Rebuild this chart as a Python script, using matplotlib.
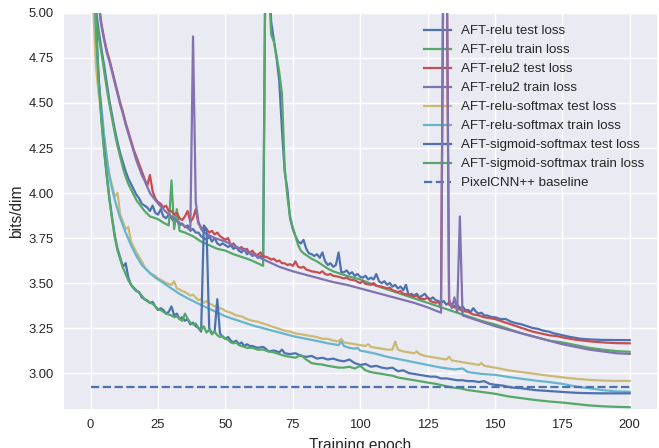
import matplotlib
matplotlib.use("Agg")
from matplotlib import pyplot as plt

# seaborn "deep" colours (old palette)
c_blue = "#4C72B0"
c_green = "#55A868"
c_red = "#C44E52"
c_purple = "#8172B2"
c_yellow = "#CCB974"
c_cyan = "#64B5CD"

# ---- AFT-relu test loss
ep_relu_test = [1, 2, 3, 4, 5, 6, 7, 8, 9, 10, 11, 12, 13, 14, 15, 16, 17, 18, 19, 20,
                21, 22, 23, 24, 25, 26, 27, 28, 29, 30, 31, 32, 33, 34, 35, 36, 37, 38, 39, 40,
                41, 42, 43, 44, 45, 46, 47, 48, 49, 50, 51, 52, 53, 54, 55, 56, 57, 58, 59, 60,
                61, 62, 63, 64, 65, 66, 67, 68, 69, 70, 71, 72, 73, 74, 75, 76, 77, 78, 79, 80,
                81, 82, 83, 84, 85, 86, 87, 88, 89, 90, 91, 92, 93, 94, 95, 96, 97, 98, 99, 100,
                101, 102, 103, 104, 105, 106, 107, 108, 109, 110, 111, 112, 113, 114, 115, 116, 117, 118, 119, 120,
                121, 122, 123, 124, 125, 126, 127, 128, 129, 130, 131, 132, 133, 134, 135, 136, 137, 138, 139, 140,
                141, 142, 143, 144, 145, 146, 147, 148, 149, 150, 152, 154, 156, 158, 160, 162, 164, 166, 168, 170,
                172, 175, 178, 182, 186, 190, 195, 200]
loss_relu_test = [5.60, 5.02, 4.90, 4.80, 4.71, 4.61, 4.51, 4.43, 4.35, 4.28, 4.22, 4.17, 4.12, 4.08, 4.05, 4.02, 3.99, 3.97, 3.94, 3.93,
                  3.92, 3.90, 3.93, 3.89, 3.88, 3.91, 3.87, 3.86, 3.88, 3.86, 3.84, 3.85, 3.82, 3.83, 3.81, 3.82, 3.79, 3.80, 3.78, 3.78,
                  3.76, 3.75, 3.74, 3.76, 3.73, 3.75, 3.72, 3.71, 3.72, 3.71, 3.70, 3.71, 3.69, 3.70, 3.68, 3.67, 3.69, 3.66, 3.67, 3.65,
                  3.66, 3.64, 3.65, 3.63, 5.60, 5.30, 4.95, 4.85, 4.75, 4.62, 4.35, 4.12, 4.02, 3.86, 3.80, 3.76, 3.73, 3.72, 3.74, 3.69,
                  3.665, 3.66, 3.65, 3.66, 3.64, 3.67, 3.62, 3.60, 3.61, 3.59, 3.60, 3.67, 3.56, 3.56, 3.57, 3.55, 3.56, 3.54, 3.55, 3.535,
                  3.53, 3.54, 3.52, 3.53, 3.52, 3.55, 3.51, 3.50, 3.51, 3.49, 3.50, 3.48, 3.49, 3.47, 3.48, 3.46, 3.49, 3.43, 3.44, 3.43,
                  3.44, 3.42, 3.43, 3.44, 3.42, 3.41, 3.42, 3.405, 3.40, 3.39, 3.40, 3.38, 3.39, 3.38, 3.37, 3.38, 3.36, 3.37, 3.35, 3.35,
                  3.34, 3.36, 3.34, 3.33, 3.335, 3.32, 3.32, 3.315, 3.31, 3.31, 3.30, 3.30, 3.285, 3.276, 3.27, 3.26, 3.25, 3.245, 3.235, 3.23,
                  3.22, 3.21, 3.20, 3.19, 3.186, 3.184, 3.183, 3.183]

# ---- AFT-relu train loss
ep_relu_train = [1, 2, 3, 4, 5, 6, 7, 8, 9, 10, 11, 12, 13, 14, 15, 16, 17, 18, 19, 20,
                 22, 25, 27, 29, 30, 31, 32, 33, 35, 38, 41, 44, 47, 50, 53, 56, 59, 62, 64, 65,
                 66, 67, 68, 69, 70, 71, 72, 73, 74, 75, 76, 77, 78, 79, 80, 82, 84, 86, 88, 90,
                 92, 95, 100, 105, 110, 115, 120, 125, 130, 135, 140, 145, 150, 155, 160, 165, 170, 175, 180, 185,
                 190, 195, 200]
loss_relu_train = [5.55, 4.98, 4.87, 4.78, 4.68, 4.58, 4.49, 4.41, 4.33, 4.26, 4.20, 4.14, 4.09, 4.05, 4.02, 3.99, 3.96, 3.94, 3.92, 3.90,
                   3.87, 3.855, 3.835, 3.82, 4.07, 3.80, 3.91, 3.79, 3.78, 3.76, 3.73, 3.71, 3.69, 3.68, 3.66, 3.645, 3.63, 3.61, 3.595, 5.60,
                   5.20, 4.88, 4.84, 4.76, 4.67, 4.55, 4.14, 3.98, 3.87, 3.81, 3.76, 3.71, 3.68, 3.665, 3.655, 3.635, 3.62, 3.60, 3.58, 3.565,
                   3.555, 3.54, 3.52, 3.49, 3.465, 3.44, 3.415, 3.39, 3.365, 3.34, 3.315, 3.29, 3.27, 3.245, 3.22, 3.20, 3.18, 3.17, 3.155, 3.14,
                   3.13, 3.122, 3.118]

# ---- AFT-relu2 test loss
ep_relu2_test = [1, 2, 3, 4, 5, 6, 7, 8, 9, 10, 11, 12, 13, 14, 15, 16, 17, 18, 19, 20,
                 21, 22, 23, 24, 25, 26, 27, 28, 29, 30, 31, 32, 33, 34, 35, 36, 37, 38, 39, 40,
                 41, 42, 43, 44, 45, 46, 47, 48, 49, 50, 51, 52, 53, 54, 55, 56, 57, 58, 59, 60,
                 61, 62, 63, 64, 65, 66, 67, 68, 69, 70, 71, 72, 73, 74, 75, 76, 77, 78, 79, 80,
                 82, 84, 85, 86, 87, 88, 89, 90, 92, 94, 95, 96, 98, 100, 101, 102, 104, 105, 106, 108,
                 110, 111, 112, 114, 115, 116, 118, 120, 121, 122, 124, 125, 126, 128, 129, 130, 131, 132, 133, 134,
                 136, 138, 140, 142, 144, 146, 148, 150, 153, 156, 158, 161, 164, 167, 170, 173, 176, 180, 185, 190,
                 195, 200]
loss_relu2_test = [5.65, 5.30, 5.06, 4.94, 4.86, 4.79, 4.74, 4.68, 4.62, 4.56, 4.50, 4.45, 4.39, 4.34, 4.29, 4.24, 4.20, 4.16, 4.12, 4.08,
                   4.04, 4.10, 4.01, 3.97, 3.95, 3.94, 3.92, 3.93, 3.90, 3.90, 3.88, 3.89, 3.86, 3.85, 3.87, 3.90, 3.84, 3.86, 3.91, 3.83,
                   3.81, 3.79, 3.80, 3.78, 3.79, 3.77, 3.78, 3.76, 3.75, 3.74, 3.75, 3.71, 3.72, 3.70, 3.69, 3.70, 3.68, 3.69, 3.665, 3.68,
                   3.66, 3.655, 3.67, 3.65, 3.645, 3.64, 3.63, 3.635, 3.62, 3.625, 3.61, 3.61, 3.60, 3.605, 3.595, 3.62, 3.59, 3.585, 3.59, 3.575,
                   3.565, 3.56, 3.555, 3.565, 3.55, 3.545, 3.55, 3.54, 3.535, 3.525, 3.53, 3.52, 3.515, 3.50, 3.51, 3.495, 3.49, 3.50, 3.485, 3.48,
                   3.47, 3.475, 3.46, 3.45, 3.455, 3.44, 3.435, 3.425, 3.43, 3.415, 3.41, 3.42, 3.40, 3.39, 3.395, 3.37, 5.60, 5.60, 3.38, 3.37,
                   3.36, 3.345, 3.34, 3.325, 3.32, 3.31, 3.305, 3.30, 3.285, 3.27, 3.26, 3.245, 3.23, 3.22, 3.21, 3.205, 3.195, 3.185, 3.176, 3.17,
                   3.166, 3.165]

# ---- AFT-relu2 train loss
ep_relu2_train = [1, 2, 3, 4, 5, 6, 7, 8, 9, 10, 11, 12, 13, 14, 15, 16, 17, 18, 19, 20,
                  21, 22, 24, 26, 28, 30, 32, 34, 36, 37, 38, 39, 40, 41, 42, 44, 46, 48, 50, 55,
                  60, 65, 70, 75, 80, 85, 90, 95, 100, 105, 110, 115, 120, 125, 130, 131, 132, 133, 134, 135,
                  136, 137, 138, 140, 145, 150, 155, 160, 165, 170, 175, 180, 185, 190, 195, 200]
loss_relu2_train = [5.62, 5.27, 5.04, 4.93, 4.85, 4.78, 4.73, 4.67, 4.61, 4.55, 4.49, 4.44, 4.38, 4.33, 4.28, 4.23, 4.18, 4.14, 4.10, 4.07,
                    4.035, 4.00, 3.96, 3.925, 3.895, 3.87, 3.845, 3.825, 3.805, 3.795, 4.87, 3.95, 3.84, 3.80, 3.78, 3.765, 3.75, 3.74, 3.73, 3.695,
                    3.66, 3.625, 3.59, 3.565, 3.545, 3.525, 3.505, 3.49, 3.47, 3.45, 3.43, 3.41, 3.39, 3.365, 3.335, 5.60, 5.60, 3.41, 3.36, 3.42,
                    3.34, 3.87, 3.32, 3.31, 3.285, 3.26, 3.24, 3.22, 3.20, 3.18, 3.16, 3.145, 3.13, 3.12, 3.11, 3.106]

# ---- AFT-relu-softmax test loss
ep_rs_test = [1, 2, 3, 4, 5, 6, 7, 8, 9, 10, 11, 12, 13, 14, 15, 16, 17, 18, 19, 20,
              22, 24, 25, 27, 28, 29, 30, 31, 32, 33, 34, 35, 36, 37, 38, 39, 40, 41, 42, 43,
              44, 45, 46, 47, 48, 49, 50, 52, 54, 56, 58, 60, 62, 64, 66, 68, 70, 72, 74, 76,
              78, 80, 82, 84, 86, 88, 90, 92, 93, 94, 96, 98, 100, 102, 103, 104, 106, 108, 110, 112,
              113, 114, 116, 118, 120, 121, 122, 124, 126, 128, 130, 132, 133, 134, 136, 138, 140, 142, 144, 145,
              146, 148, 150, 155, 160, 165, 170, 175, 180, 185, 190, 195, 200]
loss_rs_test = [5.02, 4.70, 4.55, 4.44, 4.32, 4.20, 4.10, 4.04, 3.98, 4.00, 3.88, 3.84, 3.80, 3.81, 3.73, 3.70, 3.67, 3.645, 3.62, 3.59,
                3.555, 3.54, 3.525, 3.51, 3.50, 3.495, 3.49, 3.51, 3.47, 3.465, 3.455, 3.45, 3.44, 3.43, 3.435, 3.42, 3.405, 3.41, 3.39, 3.40,
                3.385, 3.38, 3.37, 3.375, 3.36, 3.355, 3.345, 3.335, 3.32, 3.315, 3.30, 3.29, 3.285, 3.275, 3.265, 3.255, 3.245, 3.235, 3.23, 3.22,
                3.215, 3.21, 3.205, 3.20, 3.19, 3.19, 3.18, 3.175, 3.19, 3.17, 3.165, 3.16, 3.155, 3.15, 3.16, 3.145, 3.14, 3.135, 3.13, 3.13,
                3.175, 3.13, 3.12, 3.115, 3.11, 3.12, 3.105, 3.095, 3.09, 3.085, 3.08, 3.075, 3.09, 3.07, 3.065, 3.06, 3.055, 3.05, 3.045, 3.055,
                3.04, 3.035, 3.03, 3.015, 3.005, 2.995, 2.985, 2.976, 2.968, 2.962, 2.958, 2.956, 2.956]

# ---- AFT-relu-softmax train loss
ep_rs_train = [1, 2, 3, 4, 5, 6, 7, 8, 9, 10, 11, 12, 13, 14, 15, 16, 17, 18, 19, 20,
               22, 24, 26, 28, 30, 33, 36, 40, 45, 50, 55, 60, 65, 70, 75, 80, 85, 88, 90, 92,
               93, 94, 96, 98, 99, 100, 105, 110, 115, 120, 125, 130, 135, 138, 140, 145, 150, 155, 160, 165,
               170, 175, 180, 185, 190, 195, 200]
loss_rs_train = [5.50, 4.85, 4.62, 4.48, 4.32, 4.19, 4.09, 4.02, 3.96, 3.91, 3.86, 3.82, 3.78, 3.745, 3.71, 3.68, 3.65, 3.625, 3.60, 3.585,
                 3.555, 3.53, 3.51, 3.49, 3.47, 3.44, 3.415, 3.385, 3.35, 3.315, 3.29, 3.265, 3.245, 3.225, 3.205, 3.19, 3.175, 3.165, 3.16, 3.155,
                 3.175, 3.15, 3.14, 3.135, 3.14, 3.125, 3.11, 3.09, 3.075, 3.06, 3.045, 3.03, 3.02, 3.025, 3.005, 2.995, 2.99, 2.978, 2.968, 2.958,
                 2.95, 2.94, 2.925, 2.915, 2.905, 2.898, 2.896]

# ---- AFT-sigmoid-softmax test loss
ep_ss_test = [1, 2, 3, 4, 5, 6, 7, 8, 9, 10, 11, 12, 13, 14, 15, 16, 17, 18, 19, 20,
              21, 22, 23, 24, 25, 26, 27, 28, 29, 30, 31, 32, 33, 34, 35, 36, 37, 38, 39, 40,
              41, 42, 43, 44, 45, 46, 47, 48, 49, 50, 51, 52, 53, 54, 55, 56, 57, 58, 59, 60,
              62, 64, 65, 66, 68, 70, 71, 72, 74, 76, 78, 80, 82, 84, 86, 88, 90, 92, 94, 96,
              98, 100, 102, 104, 106, 108, 110, 112, 114, 116, 118, 120, 122, 124, 126, 128, 130, 132, 134, 136,
              138, 140, 142, 144, 146, 148, 150, 153, 156, 160, 165, 170, 175, 180, 185, 190, 200]
loss_ss_test = [5.65, 4.95, 4.64, 4.42, 4.25, 4.10, 3.97, 3.86, 3.76, 3.69, 3.64, 3.59, 3.61, 3.53, 3.49, 3.47, 3.455, 3.45, 3.42, 3.41,
                3.40, 3.39, 3.395, 3.37, 3.35, 3.36, 3.35, 3.33, 3.34, 3.37, 3.32, 3.33, 3.30, 3.31, 3.29, 3.30, 3.27, 3.28, 3.26, 3.25,
                3.23, 3.82, 3.80, 3.25, 3.22, 3.23, 3.41, 3.22, 3.20, 3.19, 3.20, 3.18, 3.17, 3.18, 3.16, 3.17, 3.15, 3.16, 3.15, 3.15,
                3.14, 3.145, 3.135, 3.12, 3.125, 3.115, 3.13, 3.11, 3.105, 3.11, 3.095, 3.09, 3.095, 3.08, 3.085, 3.075, 3.08, 3.07, 3.065, 3.075,
                3.055, 3.045, 3.05, 3.035, 3.04, 3.03, 3.025, 3.03, 3.01, 3.015, 3.00, 2.995, 2.99, 2.985, 2.98, 2.98, 2.97, 2.97, 2.965, 2.96,
                2.96, 2.955, 2.955, 2.95, 2.955, 2.94, 2.935, 2.93, 2.92, 2.915, 2.905, 2.90, 2.895, 2.89, 2.888, 2.887, 2.887]

# ---- AFT-sigmoid-softmax train loss
ep_ss_train = [1, 2, 3, 4, 5, 6, 7, 8, 9, 10, 11, 12, 13, 14, 15, 16, 17, 18, 19, 20,
               21, 22, 23, 24, 25, 26, 27, 28, 29, 30, 31, 32, 33, 34, 35, 36, 37, 38, 39, 40,
               41, 42, 43, 44, 45, 46, 47, 48, 49, 50, 51, 52, 53, 54, 55, 56, 58, 60, 62, 64,
               66, 68, 70, 72, 74, 76, 78, 80, 82, 84, 86, 88, 90, 92, 94, 96, 98, 100, 102, 104,
               106, 108, 110, 112, 114, 116, 118, 120, 122, 125, 128, 131, 134, 137, 140, 145, 150, 155, 160, 165,
               170, 175, 180, 185, 190, 195, 200]
loss_ss_train = [5.60, 4.92, 4.62, 4.40, 4.23, 4.09, 3.96, 3.85, 3.75, 3.68, 3.63, 3.585, 3.55, 3.515, 3.49, 3.475, 3.46, 3.445, 3.43, 3.41,
                 3.405, 3.39, 3.385, 3.37, 3.355, 3.35, 3.34, 3.33, 3.325, 3.32, 3.31, 3.315, 3.30, 3.29, 3.33, 3.30, 3.28, 3.27, 3.275, 3.25,
                 3.24, 3.26, 3.225, 3.24, 3.215, 3.23, 3.21, 3.20, 3.205, 3.19, 3.185, 3.17, 3.165, 3.17, 3.155, 3.15, 3.14, 3.14, 3.13, 3.13,
                 3.12, 3.115, 3.105, 3.095, 3.09, 3.085, 3.10, 3.075, 3.055, 3.05, 3.047, 3.04, 3.035, 3.03, 3.03, 3.035, 3.025, 3.04, 3.015, 3.005,
                 3.00, 2.995, 2.99, 2.985, 2.975, 2.97, 2.965, 2.96, 2.955, 2.947, 2.94, 2.93, 2.92, 2.915, 2.905, 2.895, 2.885, 2.87, 2.86, 2.85,
                 2.842, 2.836, 2.828, 2.82, 2.815, 2.812, 2.81]

# ---- PixelCNN++ baseline
ep_base = [0, 200]
loss_base = [2.92, 2.92]

plt.rcParams['font.family'] = ['Liberation Sans', 'DejaVu Sans']

fig = plt.figure(figsize=(6.59, 4.48), dpi=100)
ax = fig.add_axes([0.0966, 0.087, 0.8998, 0.884])
ax.set_facecolor("#EAEAF2")
ax.set_axisbelow(True)
ax.grid(True, color="white", linewidth=1.0)
for s in ax.spines.values():
    s.set_visible(False)

lw = 1.6
ax.plot(ep_relu_test, loss_relu_test, color=c_blue, lw=lw, label="AFT-relu test loss")
ax.plot(ep_relu_train, loss_relu_train, color=c_green, lw=lw, label="AFT-relu train loss")
ax.plot(ep_relu2_test, loss_relu2_test, color=c_red, lw=lw, label="AFT-relu2 test loss")
ax.plot(ep_relu2_train, loss_relu2_train, color=c_purple, lw=lw, label="AFT-relu2 train loss")
ax.plot(ep_rs_test, loss_rs_test, color=c_yellow, lw=lw, label="AFT-relu-softmax test loss")
ax.plot(ep_rs_train, loss_rs_train, color=c_cyan, lw=lw, label="AFT-relu-softmax train loss")
ax.plot(ep_ss_test, loss_ss_test, color=c_blue, lw=lw, label="AFT-sigmoid-softmax test loss")
ax.plot(ep_ss_train, loss_ss_train, color=c_green, lw=lw, label="AFT-sigmoid-softmax train loss")
ax.plot(ep_base, loss_base, color=c_blue, lw=lw, ls="--", label="PixelCNN++ baseline")

ax.set_xlim(-10, 210)
ax.set_ylim(2.8, 5.0)
ax.set_xticks([0, 25, 50, 75, 100, 125, 150, 175, 200])
ax.set_yticks([3.0, 3.25, 3.5, 3.75, 4.0, 4.25, 4.5, 4.75, 5.0])
ax.set_yticklabels(["3.00", "3.25", "3.50", "3.75", "4.00", "4.25", "4.50", "4.75", "5.00"])
ax.tick_params(length=0, pad=7, labelsize=9.4, colors="#262626")

ax.set_xlabel("Training epoch", fontsize=11.2, color="#262626", labelpad=5)
ax.set_ylabel("bits/dim", fontsize=11.2, color="#262626", labelpad=3)

leg = ax.legend(loc="upper right", frameon=False, fontsize=9.6, labelspacing=0.5)
leg.set_zorder(1)
for t in leg.get_texts():
    t.set_color("#262626")

fig.savefig("out.png", dpi=100)
